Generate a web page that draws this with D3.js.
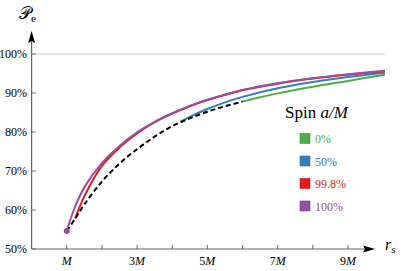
<!DOCTYPE html>
<meta charset="utf-8">
<script src="https://d3js.org/d3.v7.min.js"></script>
<style>
  body { margin: 0; background: #fff; }
  text { font-family: "Liberation Serif", "DejaVu Serif", serif; }
</style>
<svg id="chart" width="415" height="271"></svg>
<script>
// spin series, radius r_s in units of M, P_e in percent
var spinNames = ["0%", "50%", "99.8%", "100%"];
var spinColors = ["#4daf4a", "#377eb8", "#e41a1c", "#984ea3"];

var rSpin0 = [6, 6.5, 7, 8, 9, 10.05];
var pSpin0 = [87.8, 88.9, 89.9, 91.6, 93.1, 94.7];

var rSpin50 = [4.23, 4.5, 5, 5.5, 6, 7, 8, 9, 10.05];
var pSpin50 = [82.6, 83.9, 85.9, 87.6, 89.0, 91.2, 92.8, 94.1, 95.2];

var rSpin998 = [1.24, 1.5, 2, 2.5, 3, 3.5, 4, 4.5, 5, 5.5, 6, 7, 8, 9, 10.05];
var pSpin998 = [57.8, 63.5, 71.3, 76.0, 79.6, 82.5, 84.7, 86.6, 88.2, 89.5, 90.7, 92.4, 93.7, 94.7, 95.6];

var rSpin100 = [1, 1.2, 1.5, 2, 2.5, 3, 3.5, 4, 4.5, 5, 5.5, 6, 7, 8, 9, 10.05];
var pSpin100 = [54.6, 60.0, 65.8, 72.0, 76.4, 79.9, 82.6, 84.8, 86.7, 88.3, 89.6, 90.8, 92.5, 93.8, 94.8, 95.7];

// locus of the inner edge (dashed)
var rEdge = [1, 1.24, 1.5, 2, 2.5, 3, 3.5, 4, 4.5, 5, 5.5, 6];
var pEdge = [54.6, 57.8, 61.4, 67.3, 71.9, 75.6, 78.8, 81.5, 83.5, 85.2, 86.6, 87.8];

var xTicks = [1, 2, 3, 4, 5, 6, 7, 8, 9];
var xTickLabels = ["M", "", "3M", "", "5M", "", "7M", "", "9M"];
var yTicks = [50, 60, 70, 80, 90, 100];

var svg = d3.select("#chart");

var x = d3.scaleLinear().domain([0, 10]).range([31.6, 383.1]);
var y = d3.scaleLinear().domain([50, 100]).range([249, 54]);

// gridline at 100%
svg.append("line")
    .attr("x1", x(0)).attr("x2", x(10.05))
    .attr("y1", y(100)).attr("y2", y(100))
    .attr("stroke", "#dcdcdc").attr("stroke-width", 1.5);

// axes
var axisColor = "#666";
svg.append("line")
    .attr("x1", x(0)).attr("x2", 368)
    .attr("y1", y(50)).attr("y2", y(50))
    .attr("stroke", axisColor).attr("stroke-width", 1.2);
svg.append("line")
    .attr("x1", x(0)).attr("x2", x(0))
    .attr("y1", y(50)).attr("y2", 38)
    .attr("stroke", axisColor).attr("stroke-width", 1.2);

// arrow heads
svg.append("path")
    .attr("d", "M375," + y(50) + " L363," + (y(50) - 3.5) + " L365," + y(50) + " L363," + (y(50) + 3.5) + "Z")
    .attr("fill", "#000");
svg.append("path")
    .attr("d", "M" + x(0) + ",31 L" + (x(0) - 3.5) + ",43 L" + x(0) + ",41 L" + (x(0) + 3.5) + ",43Z")
    .attr("fill", "#000");

// x ticks
svg.selectAll(".xtick").data(xTicks).enter().append("line")
    .attr("x1", d => x(d)).attr("x2", d => x(d))
    .attr("y1", y(50)).attr("y2", y(50) - 4)
    .attr("stroke", axisColor).attr("stroke-width", 1);

var xl = svg.selectAll(".xlab").data(xTicks).enter().append("text")
    .attr("x", d => x(d)).attr("y", 265)
    .attr("text-anchor", "middle")
    .style("font-size", "12px");
xl.each(function(d, i) {
    var lab = xTickLabels[i];
    if (!lab) return;
    var t = d3.select(this);
    if (lab.length > 1) t.append("tspan").text(lab.slice(0, -1));
    t.append("tspan").style("font-style", "italic").text("M");
});

// y ticks
svg.selectAll(".ytick").data(yTicks).enter().append("line")
    .attr("x1", x(0)).attr("x2", x(0) + 4)
    .attr("y1", d => y(d)).attr("y2", d => y(d))
    .attr("stroke", axisColor).attr("stroke-width", 1);

svg.selectAll(".ylab").data(yTicks).enter().append("text")
    .attr("x", 27).attr("y", d => y(d) + 4)
    .attr("text-anchor", "end")
    .style("font-size", "12px")
    .text(d => d + "%");

// axis titles
var yt = svg.append("text").attr("x", 19).attr("y", 19).style("font-size", "17px");
yt.append("tspan").style("font-family", "'DejaVu Sans'").style("font-weight", "300").text("\u{1D4AB}");
yt.append("tspan").attr("dy", 3).style("font-size", "11px").text("e");

var xt = svg.append("text").attr("x", 385).attr("y", 250).style("font-size", "16px");
xt.append("tspan").style("font-style", "italic").text("r");
xt.append("tspan").attr("dy", 3).style("font-size", "11px").style("font-style", "italic").text("s");

// curves
var line = d3.line()
    .x(d => x(d[0]))
    .y(d => y(d[1]))
    .curve(d3.curveCatmullRom.alpha(0.5));

var series = [
    d3.zip(rSpin0, pSpin0),
    d3.zip(rSpin50, pSpin50),
    d3.zip(rSpin998, pSpin998),
    d3.zip(rSpin100, pSpin100)
];

svg.selectAll(".curve").data(series).enter().append("path")
    .attr("d", line)
    .attr("fill", "none")
    .attr("stroke", (d, i) => spinColors[i])
    .attr("stroke-width", 2);

svg.append("path")
    .attr("d", line(d3.zip(rEdge, pEdge)))
    .attr("fill", "none")
    .attr("stroke", "#000")
    .attr("stroke-width", 2)
    .attr("stroke-dasharray", "5,3");

svg.append("circle")
    .attr("cx", x(rSpin100[0])).attr("cy", y(pSpin100[0]))
    .attr("r", 3)
    .attr("fill", spinColors[3]);

// legend
var lt = svg.append("text").attr("x", 285).attr("y", 118).style("font-size", "17px");
lt.append("tspan").text("Spin ");
lt.append("tspan").style("font-style", "italic").text("a/M");

var leg = svg.selectAll(".leg").data(spinNames).enter().append("g")
    .attr("transform", (d, i) => "translate(300," + (133.5 + i * 22.5) + ")");
leg.append("rect")
    .attr("width", 10).attr("height", 10)
    .attr("fill", (d, i) => spinColors[i])
    .attr("stroke", (d, i) => d3.rgb(spinColors[i]).darker(0.5))
    .attr("stroke-width", 0.6);
leg.append("text")
    .attr("x", 15).attr("y", 9.5)
    .style("font-size", "12px")
    .attr("fill", (d, i) => spinColors[i])
    .text(d => d);
</script>
